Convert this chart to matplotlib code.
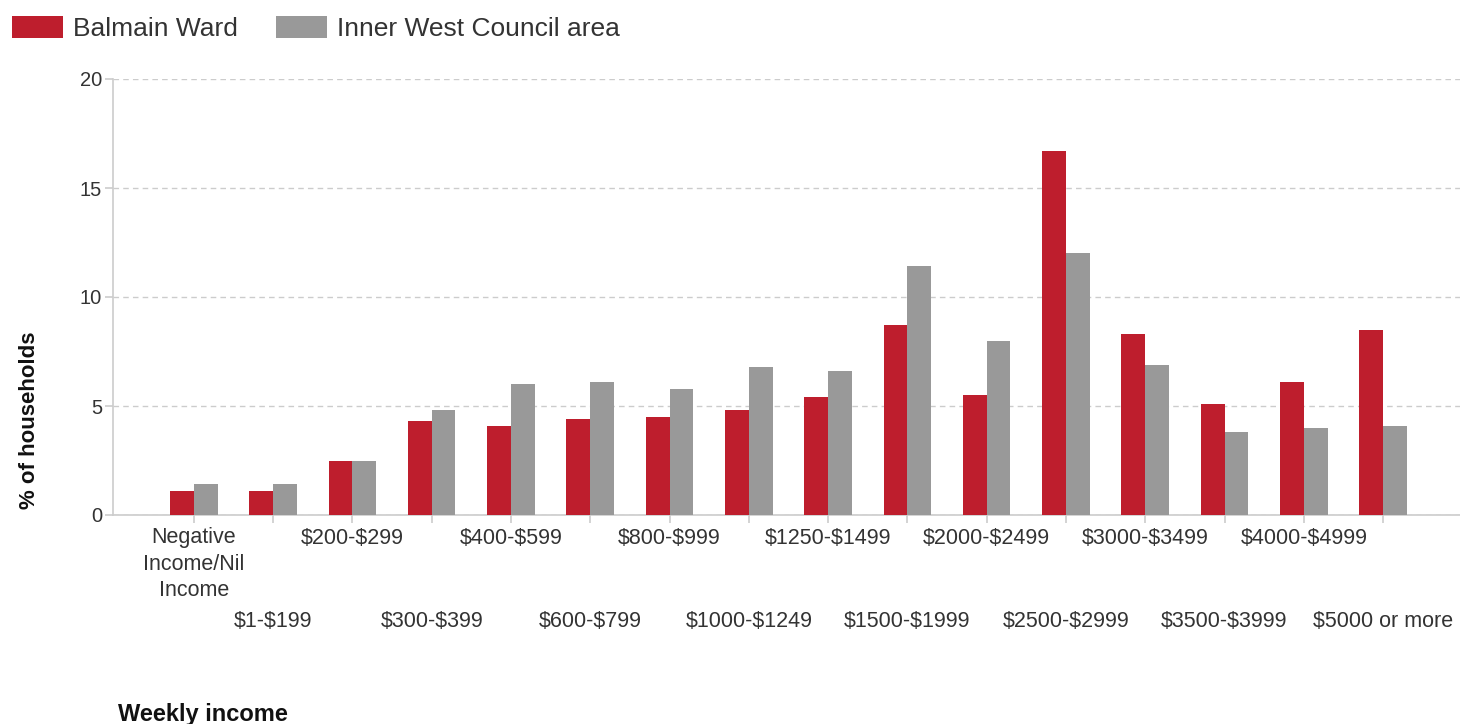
import matplotlib
matplotlib.use("Agg")
import matplotlib.pyplot as plt
import numpy as np

categories = ["Negative\nIncome/Nil\nIncome", "$1-$199", "$200-$299", "$300-$399",
              "$400-$599", "$600-$799", "$800-$999", "$1000-$1249", "$1250-$1499",
              "$1500-$1999", "$2000-$2499", "$2500-$2999", "$3000-$3499",
              "$3500-$3999", "$4000-$4999", "$5000 or more"]
balmain = [1.1, 1.1, 2.5, 4.3, 4.1, 4.4, 4.5, 4.8, 5.4, 8.7, 5.5, 16.7, 8.3, 5.1, 6.1, 8.5]
inner_west = [1.4, 1.4, 2.5, 4.8, 6.0, 6.1, 5.8, 6.8, 6.6, 11.4, 8.0, 12.0, 6.9, 3.8, 4.0, 4.1]
series_names = ["Balmain Ward", "Inner West Council area"]
yticks = [0, 5, 10, 15, 20]

RED = "#BE1E2D"
GRAY = "#999999"
TXT = "#333333"
LINE = "#CCCCCC"

plt.rcParams['font.family'] = ['Liberation Sans', 'DejaVu Sans']
plt.rcParams['text.parse_math'] = False

W, H = 1460, 724
fig = plt.figure(figsize=(W / 100, H / 100), dpi=100)
ax = fig.add_axes([113 / W, 1 - 515 / H, (1460 - 113) / W, (515 - 79) / H])

x = np.arange(len(categories))
bw = 0.3
b1 = ax.bar(x - bw / 2, balmain, width=bw, color=RED, label=series_names[0], zorder=3)
b2 = ax.bar(x + bw / 2, inner_west, width=bw, color=GRAY, label=series_names[1], zorder=3)

ax.set_xlim(-1.02, 15.97)
ax.set_ylim(0, 20)
ax.set_yticks(yticks)
ax.set_yticklabels([str(v) for v in yticks])

ax.set_xticks(x[0::2])
ax.set_xticklabels(categories[0::2], linespacing=1.32)
ax.set_xticks(x[1::2], minor=True)
ax.set_xticklabels(categories[1::2], minor=True)

for s in ["top", "right"]:
    ax.spines[s].set_visible(False)
for s in ["left", "bottom"]:
    ax.spines[s].set_color(LINE)
    ax.spines[s].set_linewidth(1.2)

ax.tick_params(axis='x', which='major', length=6, color=LINE, width=1.2, pad=3,
               labelsize=15.5, labelcolor=TXT)
ax.tick_params(axis='x', which='minor', length=6, color=LINE, width=1.2, pad=63,
               labelsize=15.5, labelcolor=TXT)
ax.tick_params(axis='y', length=6, color=LINE, width=1.2, pad=2,
               labelsize=14.5, labelcolor=TXT)

ax.yaxis.grid(True, linestyle=(0, (4, 3)), color=LINE, linewidth=1.0, zorder=0)
ax.set_axisbelow(True)

fig.text(30 / W, 1 - 420 / H, "% of households", rotation=90, ha='center', va='center',
         fontsize=16, fontweight='bold', color='#111111')
fig.text(118 / W, 1 - 715 / H, "Weekly income", ha='left', va='center',
         fontsize=17, fontweight='bold', color='#111111')

fig.legend(handles=[b1, b2], labels=series_names, loc='upper left',
           bbox_to_anchor=(12 / W, 1 - 16 / H), ncol=2, frameon=False,
           fontsize=19, handlelength=1.95, handleheight=0.9, handletextpad=0.35,
           columnspacing=1.45, borderpad=0, borderaxespad=0, labelcolor=TXT)

fig.savefig("out.png", dpi=100, facecolor='white')
